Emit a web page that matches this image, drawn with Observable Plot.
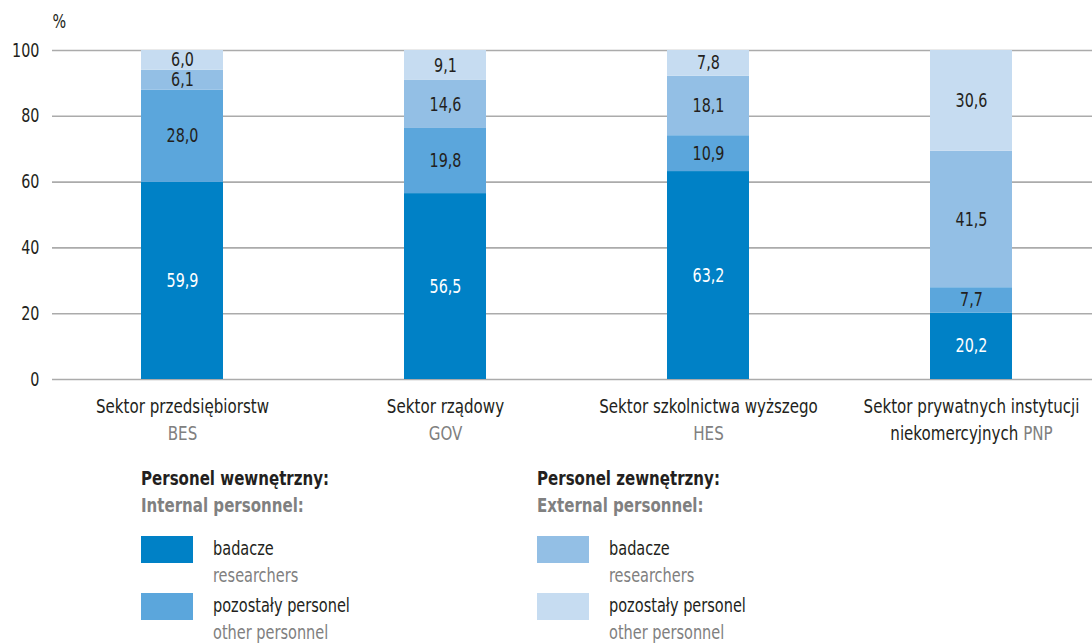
<!DOCTYPE html>
<html>
<head>
<meta charset="utf-8">
<script src="https://cdn.jsdelivr.net/npm/d3@7"></script>
<script src="https://cdn.jsdelivr.net/npm/@observablehq/plot@0.6"></script>
<style>
  body { margin: 0; background: #fff; font-family: "DejaVu Sans Condensed", "DejaVu Sans", sans-serif; font-stretch: condensed; color: #231f20; }
  #chart { position: relative; width: 1092px; height: 643px; overflow: hidden; }
  #legend { position: relative; width: 1092px; height: 188px; }
  .lg { position: absolute; font-size: 19px; line-height: 1; white-space: nowrap; transform: scaleX(0.85); transform-origin: 0 50%; }
  .lg.b { font-weight: bold; transform: scaleX(0.88); }
  .lg.g { color: #808080; }
  .sw { position: absolute; width: 52px; height: 27px; }
</style>
</head>
<body>
<div id="chart"></div>
<script>
// ---- data ----
const categories = ["BES", "GOV", "HES", "PNP"];
const catLine1 = ["Sektor przedsiębiorstw", "Sektor rządowy", "Sektor szkolnictwa wyższego", "Sektor prywatnych instytucji"];
const catLine2Prefix = ["", "", "", "niekomercyjnych"];
const series = [
  "Personel wewnętrzny – badacze",
  "Personel wewnętrzny – pozostały personel",
  "Personel zewnętrzny – badacze",
  "Personel zewnętrzny – pozostały personel"
];
const intResearchers = [59.9, 56.5, 63.2, 20.2];
const intOther       = [28.0, 19.8, 10.9, 7.7];
const extResearchers = [6.1, 14.6, 18.1, 41.5];
const extOther       = [6.0, 9.1, 7.8, 30.6];
const yTicks = [0, 20, 40, 60, 80, 100];
const colors = ["#0081c6", "#5ba6dc", "#93bfe5", "#c6dcf1"];

const legendGroups = [
  { pl: "Personel wewnętrzny:", en: "Internal personnel:", items: [
    { pl: "badacze", en: "researchers", s: 0 },
    { pl: "pozostały personel", en: "other personnel", s: 1 } ] },
  { pl: "Personel zewnętrzny:", en: "External personnel:", items: [
    { pl: "badacze", en: "researchers", s: 2 },
    { pl: "pozostały personel", en: "other personnel", s: 3 } ] }
];

// ---- table ----
const seriesValues = [intResearchers, intOther, extResearchers, extOther];
const rows = [];
categories.forEach((c, i) => {
  let base = 0;
  seriesValues.forEach((vals, s) => {
    const v = vals[i];
    rows.push({ cat: c, series: series[s], si: s, value: v, mid: base + v / 2 });
    base += v;
  });
});
const catRows = categories.map((c, i) => ({
  cat: c, line1: catLine1[i], line2: (catLine2Prefix[i] ? catLine2Prefix[i] + " " : "") + c
}));
const fmt = v => v.toFixed(1).replace(".", ",");
const FONT = '"DejaVu Sans Condensed", "DejaVu Sans", sans-serif';

const svg = Plot.plot({
  width: 1092,
  height: 455,
  marginLeft: 52,
  marginRight: 0,
  marginTop: 50,
  marginBottom: 76,
  style: { fontFamily: FONT, fontSize: "19px", color: "#231f20", background: "white", overflow: "visible", fontStretch: "condensed" },
  x: { domain: categories, range: [50.5, 1102.5], paddingInner: 0.688, paddingOuter: 0.344, axis: null },
  y: { domain: [0, 100], axis: null },
  color: { domain: series, range: colors },
  marks: [
    Plot.ruleY(yTicks, { stroke: "#ababab", strokeWidth: 1.6 }),
    Plot.barY(rows, { x: "cat", y: "value", fill: "series", z: "series" }),
    Plot.text(rows.filter(d => d.si === 0), { x: "cat", y: "mid", text: d => fmt(d.value), fill: "white", fontSize: 19 }),
    Plot.text(rows.filter(d => d.si !== 0), { x: "cat", y: "mid", text: d => fmt(d.value), fill: "#231f20", fontSize: 19 }),
    Plot.axisY({ ticks: yTicks, tickSize: 0, tickPadding: 13, label: null, fontSize: 19, tickFormat: d => String(d), fill: "#231f20" }),
    Plot.text(["%"], { frameAnchor: "top-left", dx: 0, dy: -36, text: d => d, fontSize: 19, fill: "#231f20" }),
    Plot.text(catRows, { x: "cat", text: "line1", frameAnchor: "bottom", dy: 33, fill: "#231f20", fontSize: 20 }),
    Plot.text(catRows, { x: "cat", text: "line2", frameAnchor: "bottom", dy: 60, fill: "#808080", fontSize: 20, className: "cat2" })
  ]
});

// mixed colour second line (e.g. "niekomercyjnych PNP")
d3.select(svg).selectAll(".cat2 text").each(function(_, i) {
  const prefix = catLine2Prefix[i];
  if (!prefix) return;
  const el = d3.select(this);
  const code = categories[i];
  el.text(null);
  el.append("tspan").attr("fill", "#231f20").text(prefix + " ");
  el.append("tspan").text(code);
});

// condense text horizontally to mimic the narrow typeface
const K = 0.84;
d3.select(svg).selectAll("text").each(function() {
  const t = this.getAttribute("transform");
  if (t) {
    this.setAttribute("transform", t + ` scale(${K},1)`);
  } else {
    const x = +(this.getAttribute("x") || 0);
    this.setAttribute("transform", `translate(${x},0) scale(${K},1) translate(${-x},0)`);
  }
});

const chart = document.getElementById("chart");
chart.appendChild(svg);

// ---- legend ----
const legend = document.createElement("div");
legend.id = "legend";
chart.appendChild(legend);
const colX = [141, 537];
legendGroups.forEach((g, gi) => {
  const x = colX[gi];
  const add = (cls, text, left, top) => {
    const d = document.createElement("div");
    d.className = "lg " + cls;
    d.textContent = text;
    d.style.left = left + "px";
    d.style.top = top + "px";
    legend.appendChild(d);
  };
  add("b", g.pl, x, 14);
  add("b g", g.en, x, 41);
  g.items.forEach((it, k) => {
    const top = 81 + k * 57;
    const sw = document.createElement("div");
    sw.className = "sw";
    sw.style.left = x + "px";
    sw.style.top = top + "px";
    sw.style.background = colors[it.s];
    legend.appendChild(sw);
    add("", it.pl, x + 72, top + 3);
    add("g", it.en, x + 72, top + 30);
  });
});
</script>
</body>
</html>
